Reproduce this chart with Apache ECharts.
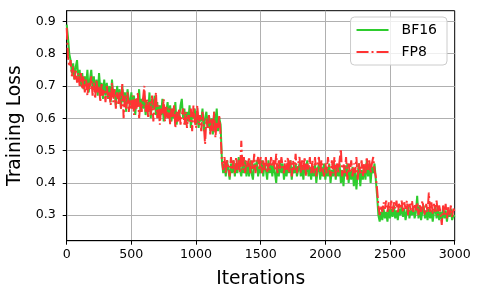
<!DOCTYPE html>
<html>
<head>
<meta charset="utf-8">
<script src="https://cdn.jsdelivr.net/npm/echarts@6/dist/echarts.min.js"></script>
<style>html,body{margin:0;padding:0;background:#fff;}#c{width:481px;height:299px;}</style>
</head>
<body>
<div id="c"></div>
<script>
// iterations step between samples
const STEP = 10;
const xTicks = [0, 500, 1000, 1500, 2000, 2500, 3000];
const yTicks = [0.3, 0.4, 0.5, 0.6, 0.7, 0.8, 0.9];
const seriesNames = ['BF16', 'FP8'];

const bf16 = [
0.89,0.85,0.80,0.78,0.74,0.77,0.72,0.76,0.78,0.72,
0.75,0.70,0.74,0.69,0.73,0.70,0.75,0.68,0.72,0.75,
0.69,0.73,0.68,0.72,0.67,0.74,0.69,0.71,0.66,0.72,
0.67,0.71,0.66,0.70,0.65,0.72,0.67,0.69,0.64,0.70,
0.66,0.69,0.63,0.70,0.65,0.68,0.62,0.69,0.66,0.64,
0.68,0.63,0.67,0.61,0.66,0.64,0.69,0.62,0.66,0.63,
0.67,0.61,0.65,0.62,0.68,0.60,0.66,0.63,0.67,0.61,
0.65,0.60,0.64,0.61,0.66,0.59,0.63,0.62,0.65,0.60,
0.64,0.59,0.63,0.60,0.65,0.58,0.62,0.60,0.64,0.66,
0.60,0.63,0.58,0.62,0.59,0.64,0.57,0.61,0.60,0.63,
0.58,0.62,0.57,0.61,0.59,0.63,0.56,0.60,0.62,0.57,
0.61,0.56,0.60,0.55,0.62,0.57,0.63,0.56,0.60,0.58,
0.47,0.43,0.46,0.42,0.47,0.44,0.41,0.46,0.43,0.47,
0.42,0.46,0.43,0.48,0.44,0.42,0.46,0.43,0.47,0.42,
0.46,0.42,0.47,0.43,0.41,0.46,0.44,0.47,0.42,0.45,
0.43,0.47,0.42,0.46,0.44,0.41,0.47,0.43,0.46,0.42,
0.46,0.43,0.40,0.46,0.42,0.47,0.43,0.46,0.41,0.45,
0.42,0.46,0.43,0.47,0.41,0.45,0.43,0.46,0.42,0.44,
0.46,0.42,0.45,0.41,0.46,0.43,0.47,0.42,0.45,0.41,
0.45,0.42,0.46,0.40,0.44,0.46,0.41,0.45,0.42,0.46,
0.41,0.45,0.42,0.46,0.40,0.44,0.42,0.46,0.41,0.45,
0.42,0.46,0.40,0.44,0.39,0.45,0.42,0.46,0.40,0.44,
0.41,0.45,0.39,0.44,0.38,0.43,0.46,0.39,0.44,0.41,
0.45,0.41,0.47,0.42,0.46,0.40,0.45,0.43,0.46,0.41,
0.36,0.30,0.28,0.31,0.285,0.32,0.29,0.31,0.28,0.32,
0.29,0.32,0.295,0.33,0.29,0.315,0.285,0.32,0.30,0.33,
0.295,0.32,0.285,0.31,0.33,0.29,0.315,0.30,0.325,0.29,
0.31,0.36,0.29,0.325,0.285,0.31,0.33,0.29,0.315,0.285,
0.32,0.29,0.315,0.28,0.31,0.325,0.29,0.32,0.285,0.31,
0.285,0.32,0.29,0.315,0.28,0.31,0.295,0.32,0.285,0.30,
0.295
];

const fp8 = [
0.88,0.79,0.76,0.78,0.73,0.76,0.72,0.75,0.71,0.74,
0.70,0.74,0.69,0.73,0.68,0.72,0.67,0.71,0.69,0.73,
0.67,0.71,0.66,0.72,0.68,0.70,0.65,0.71,0.67,0.69,
0.65,0.70,0.66,0.68,0.64,0.71,0.65,0.69,0.63,0.68,
0.64,0.68,0.63,0.71,0.60,0.67,0.63,0.68,0.62,0.66,
0.63,0.67,0.61,0.66,0.63,0.68,0.60,0.65,0.62,0.66,
0.70,0.62,0.66,0.60,0.65,0.61,0.67,0.59,0.64,0.68,
0.60,0.64,0.58,0.63,0.61,0.66,0.59,0.64,0.60,0.63,
0.58,0.63,0.60,0.64,0.57,0.62,0.59,0.63,0.58,0.61,
0.63,0.58,0.62,0.57,0.61,0.59,0.63,0.56,0.64,0.59,
0.57,0.64,0.58,0.61,0.56,0.62,0.58,0.52,0.60,0.57,
0.61,0.55,0.60,0.56,0.62,0.54,0.59,0.57,0.61,0.55,
0.47,0.44,0.48,0.43,0.47,0.45,0.42,0.48,0.44,0.47,
0.43,0.48,0.44,0.47,0.43,0.53,0.44,0.48,0.43,0.47,
0.45,0.48,0.43,0.47,0.44,0.49,0.43,0.46,0.48,0.44,
0.48,0.43,0.47,0.44,0.48,0.43,0.46,0.44,0.48,0.45,
0.47,0.44,0.49,0.43,0.47,0.44,0.48,0.45,0.43,0.47,
0.44,0.48,0.43,0.47,0.42,0.47,0.44,0.49,0.43,0.46,
0.48,0.43,0.47,0.44,0.48,0.42,0.46,0.44,0.48,0.43,
0.47,0.43,0.48,0.42,0.46,0.48,0.43,0.47,0.44,0.42,
0.46,0.43,0.48,0.44,0.42,0.47,0.43,0.48,0.42,0.46,
0.43,0.47,0.505,0.42,0.46,0.43,0.48,0.41,0.46,0.43,
0.47,0.42,0.46,0.43,0.48,0.41,0.46,0.43,0.47,0.42,
0.46,0.43,0.48,0.44,0.47,0.43,0.46,0.48,0.44,0.42,
0.38,0.33,0.30,0.33,0.31,0.34,0.32,0.345,0.31,0.34,
0.315,0.345,0.31,0.34,0.32,0.345,0.305,0.335,0.32,0.345,
0.31,0.34,0.32,0.345,0.30,0.335,0.315,0.345,0.31,0.335,
0.315,0.34,0.30,0.335,0.31,0.345,0.32,0.30,0.335,0.31,
0.37,0.31,0.34,0.305,0.335,0.31,0.345,0.30,0.33,0.31,
0.27,0.33,0.30,0.335,0.29,0.325,0.30,0.33,0.295,0.32,
0.31
];

const toPairs = arr => arr.map((v, i) => [i * STEP, v]);
const FONT = 'DejaVu Sans';
const GREEN = '#2ecc2e';
const RED = '#ff3333';
const DASHDOT = [12, 3, 2, 3];

const chart = echarts.init(document.getElementById('c'), null, {renderer: 'canvas'});
chart.setOption({
  animation: false,
  backgroundColor: '#fff',
  textStyle: {fontFamily: FONT},
  grid: {left: 66.7, right: 26.3, top: 10.7, bottom: 58.3, outerBoundsMode: 'none', containLabel: false,
    show: true, borderColor: '#000', borderWidth: 1, backgroundColor: 'transparent'},
  legend: {
    right: 34, top: 17, orient: 'vertical',
    data: [
      {name: seriesNames[0], lineStyle: {color: GREEN, width: 2}},
      {name: seriesNames[1], lineStyle: {color: RED, width: 2, type: DASHDOT}}
    ],
    itemWidth: 32, itemHeight: 10, itemGap: 8,
    itemStyle: {opacity: 0},
    padding: [6, 10, 6, 5],
    backgroundColor: 'rgba(255,255,255,0.8)',
    borderColor: '#cccccc', borderWidth: 1, borderRadius: 4,
    textStyle: {fontFamily: FONT, fontSize: 14, color: '#000', padding: [0, 0, 0, 8]}
  },
  xAxis: {
    type: 'value', min: 0, max: 3000, interval: 500,
    name: 'Iterations', nameLocation: 'middle', nameGap: 29,
    nameTextStyle: {fontFamily: FONT, fontSize: 18.7, color: '#000'},
    axisLine: {lineStyle: {color: '#000', width: 1}},
    axisTick: {show: true, length: 4, lineStyle: {color: '#000'}},
    axisLabel: {fontFamily: FONT, fontSize: 12.6, color: '#000', margin: 8,
      formatter: v => xTicks.includes(v) ? String(v) : ''},
    splitLine: {show: true, showMinLine: false, showMaxLine: false, lineStyle: {color: '#b0b0b0', width: 1}}
  },
  yAxis: {
    type: 'value', min: 0.221, max: 0.933, splitNumber: 7,
    name: 'Training Loss', nameLocation: 'middle', nameGap: 37,
    nameTextStyle: {fontFamily: FONT, fontSize: 18.7, color: '#000'},
    axisLine: {show: true, lineStyle: {color: '#000', width: 1}},
    axisTick: {show: true, length: 4, lineStyle: {color: '#000'}},
    axisLabel: {fontFamily: FONT, fontSize: 12.6, color: '#000', margin: 11,
      showMinLabel: false, showMaxLabel: false,
      formatter: v => {
        const t = yTicks.find(k => Math.abs(k - v) < 1e-6);
        return t !== undefined ? t.toFixed(1) : '';
      }},
    splitLine: {show: true, showMinLine: false, showMaxLine: false, lineStyle: {color: '#b0b0b0', width: 1}}
  },
  series: [
    {name: seriesNames[0], type: 'line', data: toPairs(bf16), symbol: 'none', showSymbol: false,
     itemStyle: {color: GREEN},
     lineStyle: {color: GREEN, width: 2}},
    {name: seriesNames[1], type: 'line', data: toPairs(fp8), symbol: 'none', showSymbol: false,
     itemStyle: {color: RED},
     lineStyle: {color: RED, width: 2, type: DASHDOT}}
  ]
});
</script>
</body>
</html>
